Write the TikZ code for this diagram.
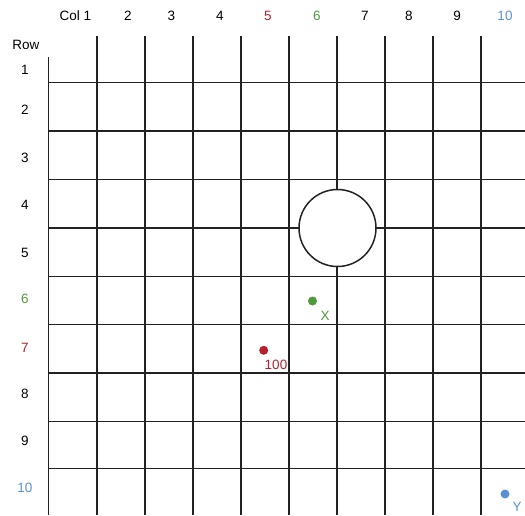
\documentclass[tikz,border=0pt]{standalone}
\usepackage{fontspec}
\setmainfont{Liberation Sans}
\definecolor{cred}{HTML}{B5202A}
\definecolor{cgreen}{HTML}{4F9A3C}
\definecolor{cblue}{HTML}{5B90D2}
\definecolor{gridc}{HTML}{222222}
\begin{document}
\begin{tikzpicture}[x=1pt,y=-1pt,
  gridline/.style={draw=gridc,line width=1.6pt},
  lbl/.style={font=\fontsize{13.5}{15}\selectfont,inner sep=0pt,anchor=center},
  dotstyle/.style={circle,inner sep=0pt,minimum size=9pt}]
\useasboundingbox (0,0) rectangle (525,515);
% vertical lines
\draw[gridline] (48.5,57) -- (48.5,515);
\foreach \x in {96.8,144.9,193,241,289,337,385,433,481}
  \draw[gridline] (\x,36) -- (\x,515);
% horizontal lines
\foreach \y in {82.5,131,179.5,228,276.5,324.5,373,421.5,468.5}
  \draw[gridline] (48.5,\y) -- (525,\y);
% circle
\node[circle,draw=gridc,fill=white,line width=1.5pt,minimum size=77pt,inner sep=0pt] (hole) at (337.5,228) {};
% column labels
\node[lbl] (c1) at (75.5,16) {Col 1};
\node[lbl] (c2) at (128,16) {2};
\node[lbl] (c3) at (171.5,16) {3};
\node[lbl] (c4) at (220,16) {4};
\node[lbl,text=cred] (c5) at (268,16) {5};
\node[lbl,text=cgreen] (c6) at (317,16) {6};
\node[lbl] (c7) at (365,16) {7};
\node[lbl] (c8) at (409,16) {8};
\node[lbl] (c9) at (457,16) {9};
\node[lbl,text=cblue] (c10) at (505,16) {10};
% row labels
\node[lbl] (rowh) at (26,45) {Row};
\node[lbl] (r1) at (25,70) {1};
\node[lbl] (r2) at (25,110) {2};
\node[lbl] (r3) at (25,158) {3};
\node[lbl] (r4) at (25,205) {4};
\node[lbl] (r5) at (25,252.5) {5};
\node[lbl,text=cgreen] (r6) at (25,299) {6};
\node[lbl,text=cred] (r7) at (25,348) {7};
\node[lbl] (r8) at (25,394) {8};
\node[lbl] (r9) at (25,441) {9};
\node[lbl,text=cblue] (r10) at (25,487.5) {10};
% points
\node[dotstyle,fill=cgreen] (px) at (312.5,301) {};
\node[lbl,text=cgreen] (lx) at (325,316) {X};
\node[dotstyle,fill=cred] (p100) at (263.7,350.3) {};
\node[lbl,text=cred] (l100) at (276,365) {100};
\node[dotstyle,fill=cblue] (py) at (505,494) {};
\node[lbl,text=cblue] (ly) at (517,506.5) {Y};
\end{tikzpicture}
\end{document}
